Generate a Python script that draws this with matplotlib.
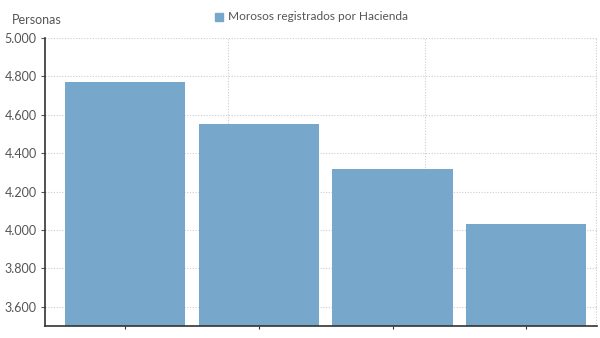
import matplotlib.pyplot as plt
from matplotlib.ticker import FuncFormatter

# data
positions = [0, 1, 2, 3]
morosos = [4770, 4550, 4320, 4030]
y_ticks = [3600, 3800, 4000, 4200, 4400, 4600, 4800, 5000]
serie = "Morosos registrados por Hacienda"

plt.rcParams['font.family'] = ['Lato', 'DejaVu Sans']
text_col = '#555555'
bar_col = '#77a8cb'

fig = plt.figure(figsize=(6, 3.38), dpi=100)
ax = fig.add_axes([0.075, 0.0355, 0.92, 0.852])

ax.bar(positions, morosos, width=0.9, color=bar_col, zorder=2)

ax.set_ylim(3500, 5000)
ax.set_xlim(-0.6, 3.53)
ax.set_yticks(y_ticks)
ax.yaxis.set_major_formatter(FuncFormatter(lambda v, p: f"{v/1000:.3f}"))
ax.set_xticks(positions)
ax.set_xticklabels([''] * len(positions))

ax.grid(axis='y', linestyle=(0, (1, 1.5)), color='#cccccc', linewidth=0.8, zorder=0)
for gx in [0.77, 2.24, 3.52]:
    ax.axvline(gx, linestyle=(0, (1, 1.5)), color='#cccccc', linewidth=0.8, zorder=0)

for s in ['top', 'right']:
    ax.spines[s].set_visible(False)
ax.spines['left'].set_color('#333333')
ax.spines['bottom'].set_color('#333333')
ax.spines['left'].set_linewidth(1.2)
ax.spines['bottom'].set_linewidth(1.2)
ax.tick_params(axis='y', length=3, labelsize=9, colors=text_col, pad=3)
ax.tick_params(axis='x', length=2, color='#333333')

fig.text(12 / 600, 1 - 20 / 338, "Personas", fontsize=9, color=text_col, va='center', ha='left')

# legend
fig.patches.append(plt.Rectangle((215 / 600, 1 - 21 / 338), 8 / 600, 8 / 338,
                                 transform=fig.transFigure, color=bar_col, figure=fig))
fig.text(228 / 600, 1 - 17 / 338, serie, fontsize=8.6, color=text_col, va='center', ha='left')

fig.savefig('out.png', dpi=100)
